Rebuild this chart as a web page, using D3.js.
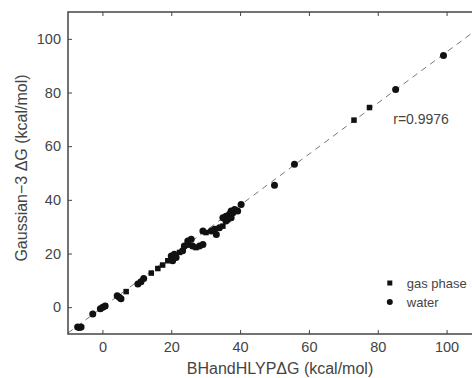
<!DOCTYPE html>
<html>
<head>
<meta charset="utf-8">
<script src="https://cdn.jsdelivr.net/npm/d3@7"></script>
<style>
  html, body { margin: 0; padding: 0; background: #fff; overflow: hidden; }
  svg { display: block; font-family: "Liberation Sans", Arial, sans-serif; }
</style>
</head>
<body>
<div id="chart"></div>
<script>
// values
const gasX = [6.9, 14.2, 16.1, 17.5, 19.0, 22.4, 27.2, 30.1, 35.0, 73.1, 77.6];
const gasY = [5.8, 12.7, 14.4, 15.7, 17.3, 20.4, 22.2, 27.8, 30.2, 69.7, 74.4];

const waterX = [-7.2, -6.2, -6.7, -2.8, -0.6, 0.1, 0.8, 4.3, 4.9, 5.4, 10.3, 11.2, 12.0,
  20.0, 20.9, 20.4, 21.4, 23.3, 23.8, 24.8, 25.8, 24.8, 26.2, 28.2, 29.2, 29.2, 31.6,
  32.6, 33.1, 34.0, 35.0, 35.9, 36.4, 36.9, 37.4, 37.9, 35.9, 39.3, 40.3, 37.4, 38.4,
  50.0, 55.8, 85.2, 99.1];
const waterY = [-7.4, -7.4, -7.6, -2.5, -0.6, 0.0, 0.4, 4.3, 3.7, 3.1, 8.6, 9.5, 10.7,
  19.1, 19.7, 17.3, 18.5, 21.0, 22.8, 23.4, 25.3, 24.7, 22.8, 22.8, 23.4, 28.4, 28.4,
  29.0, 27.1, 29.6, 33.3, 33.9, 32.7, 34.6, 35.8, 35.2, 32.1, 35.8, 38.3, 33.3, 36.4,
  45.4, 53.3, 81.1, 93.8];

const xTicks = [0, 20, 40, 60, 80, 100];
const yTicks = [0, 20, 40, 60, 80, 100];
const fitLine = { slope: 0.952, intercept: -0.1 };
const rText = "r=0.9976";

const W = 472, H = 378;
const margin = { top: 12, right: -9, bottom: 44, left: 68 };
const width = W - margin.left - margin.right;
const height = H - margin.top - margin.bottom;

const svg = d3.select('#chart').append('svg')
  .attr('width', W)
  .attr('height', H);

const g = svg.append('g')
  .attr('transform', `translate(${margin.left},${margin.top})`);

const x = d3.scaleLinear().domain([-10, 110]).range([0, width]);
const y = d3.scaleLinear().domain([-10, 110]).range([height, 0]);

const textCol = '#444';
const axisCol = '#444';

g.append('clipPath').attr('id', 'clip')
  .append('rect').attr('width', width).attr('height', height);

// fit line
g.append('line')
  .attr('clip-path', 'url(#clip)')
  .attr('x1', x(-10)).attr('y1', y(fitLine.slope * -10 + fitLine.intercept))
  .attr('x2', x(115)).attr('y2', y(fitLine.slope * 115 + fitLine.intercept))
  .attr('stroke', '#777')
  .attr('stroke-width', 1)
  .attr('stroke-dasharray', '6,5');

// axes, ticks inward on all four sides
function styleAxis(sel) {
  sel.selectAll('path').attr('stroke', axisCol).attr('stroke-width', 1.5);
  sel.selectAll('line').attr('stroke', axisCol).attr('stroke-width', 1);
  sel.selectAll('text').attr('fill', textCol).attr('font-size', '14.5px');
}

g.append('g')
  .attr('transform', `translate(0,${height})`)
  .call(d3.axisBottom(x).tickValues(xTicks).tickSizeInner(-4).tickSizeOuter(0).tickPadding(8))
  .call(styleAxis);
g.append('g')
  .call(d3.axisTop(x).tickValues(xTicks).tickSizeInner(-4).tickSizeOuter(0).tickFormat(''))
  .call(styleAxis);
g.append('g')
  .call(d3.axisLeft(y).tickValues(yTicks).tickSizeInner(-4).tickSizeOuter(0).tickPadding(7))
  .call(styleAxis);
g.append('g')
  .attr('transform', `translate(${width},0)`)
  .call(d3.axisRight(y).tickValues(yTicks).tickSizeInner(-4).tickSizeOuter(0).tickFormat(''))
  .call(styleAxis);

g.selectAll('.domain').attr('d', null);
g.append('rect')
  .attr('width', width).attr('height', height)
  .attr('fill', 'none').attr('stroke', axisCol).attr('stroke-width', 1.5);

// points
const sq = 5.5;
g.append('g').selectAll('rect')
  .data(d3.range(gasX.length))
  .join('rect')
  .attr('x', i => x(gasX[i]) - sq / 2)
  .attr('y', i => y(gasY[i]) - sq / 2)
  .attr('width', sq).attr('height', sq)
  .attr('fill', '#111');

g.append('g').selectAll('circle')
  .data(d3.range(waterX.length))
  .join('circle')
  .attr('cx', i => x(waterX[i]))
  .attr('cy', i => y(waterY[i]))
  .attr('r', 3.5)
  .attr('fill', '#111');

// r label
g.append('text')
  .attr('x', x(84.5)).attr('y', y(68.3))
  .attr('fill', textCol).attr('font-size', '14px')
  .text(rText);

// legend
const lg = g.append('g').attr('transform', `translate(${x(83.5)},${y(9)})`);
lg.append('rect').attr('x', -2.5).attr('y', -2.5).attr('width', 5).attr('height', 5).attr('fill', '#111');
lg.append('text').attr('x', 17).attr('y', 4.5).attr('fill', textCol).attr('font-size', '13px').text('gas phase');
lg.append('circle').attr('cx', 0).attr('cy', 19).attr('r', 3).attr('fill', '#111');
lg.append('text').attr('x', 17).attr('y', 23.5).attr('fill', textCol).attr('font-size', '13px').text('water');

// axis titles
svg.append('text')
  .attr('x', 280).attr('y', 374)
  .attr('text-anchor', 'middle')
  .attr('fill', textCol).attr('font-size', '16px')
  .text('BHandHLYPΔG (kcal/mol)');

svg.append('text')
  .attr('transform', `translate(27,${margin.top + height / 2 - 5}) rotate(-90)`)
  .attr('text-anchor', 'middle')
  .attr('fill', textCol).attr('font-size', '16px')
  .text('Gaussian−3 ΔG (kcal/mol)');
</script>
</body>
</html>
